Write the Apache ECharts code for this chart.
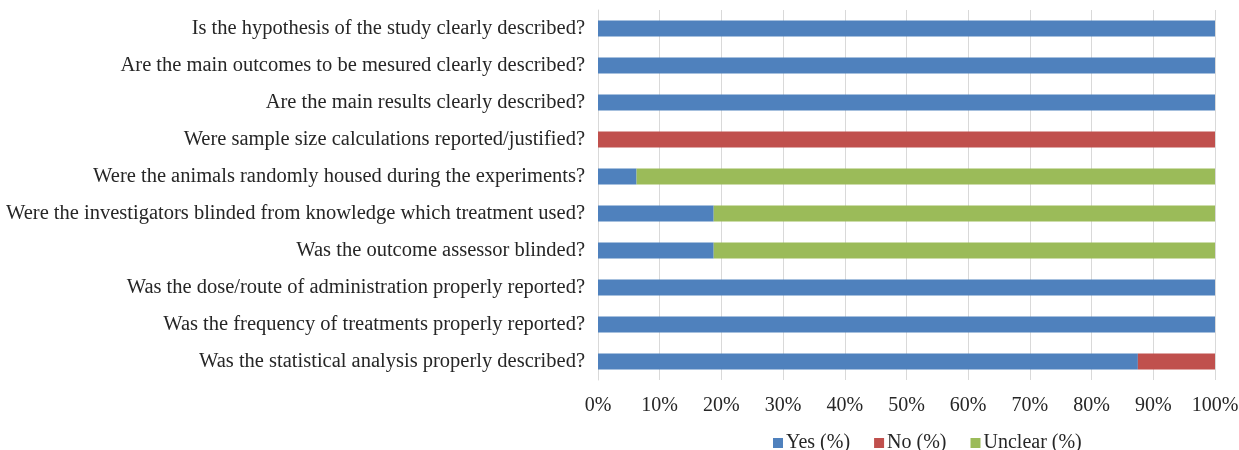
<!DOCTYPE html>
<html>
<head>
<meta charset="utf-8">
<script src="https://cdn.jsdelivr.net/npm/echarts@6/dist/echarts.min.js"></script>
<style>
  html, body { margin: 0; padding: 0; background: #fff; }
  #chart { width: 1239px; height: 450px; }
</style>
</head>
<body>
<div id="chart"></div>
<script>
// questions, top to bottom
const questions = [
    'Is the hypothesis of the study clearly described?',
    'Are the main outcomes to be mesured clearly described?',
    'Are the main results clearly described?',
    'Were sample size calculations reported/justified?',
    'Were the animals randomly housed during the experiments?',
    'Were the investigators blinded from knowledge which treatment used?',
    'Was the outcome assessor blinded?',
    'Was the dose/route of administration properly reported?',
    'Was the frequency of treatments properly reported?',
    'Was the statistical analysis properly described?'
];
const yesPct = [100, 100, 100, 0, 6.25, 18.75, 18.75, 100, 100, 87.5];
const noPct = [0, 0, 0, 100, 0, 0, 0, 0, 0, 12.5];
const unclearPct = [0, 0, 0, 0, 93.75, 81.25, 81.25, 0, 0, 0];
const seriesNames = ['Yes (%)', 'No (%)', 'Unclear (%)'];

const font = '"Liberation Serif", "Times New Roman", serif';
const fs = 20;
const chart = echarts.init(document.getElementById('chart'));

const mk = (name, data, color) => ({
    name,
    type: 'bar',
    stack: 'total',
    data,
    barWidth: 16,
    itemStyle: {color},
    emphasis: {disabled: true}
});

chart.setOption({
    animation: false,
    textStyle: {fontFamily: font},
    grid: {left: 598, right: 24, top: 10, bottom: 70, outerBoundsMode: 'none', containLabel: false},
    legend: {
        top: 428,
        left: 768,
        itemWidth: 10,
        itemHeight: 10,
        itemGap: 24,
        icon: 'rect',
        textStyle: {fontFamily: font, fontSize: fs, color: '#262626', padding: [0, 0, 0, -2]},
        data: seriesNames
    },
    xAxis: {
        type: 'value',
        min: 0,
        max: 100,
        interval: 10,
        axisLabel: {
            formatter: '{value}%',
            fontFamily: font,
            fontSize: fs,
            color: '#262626',
            margin: 16
        },
        axisLine: {show: false},
        axisTick: {show: false},
        splitLine: {lineStyle: {color: '#d9d9d9'}}
    },
    yAxis: {
        type: 'category',
        inverse: true,
        data: questions,
        axisLabel: {
            fontFamily: font,
            fontSize: 20.5,
            color: '#262626',
            margin: 13
        },
        axisTick: {show: false},
        axisLine: {lineStyle: {color: '#d9d9d9'}}
    },
    series: [
        mk(seriesNames[0], yesPct, '#4F81BD'),
        mk(seriesNames[1], noPct, '#C0504D'),
        mk(seriesNames[2], unclearPct, '#9BBB59')
    ]
});
</script>
</body>
</html>
